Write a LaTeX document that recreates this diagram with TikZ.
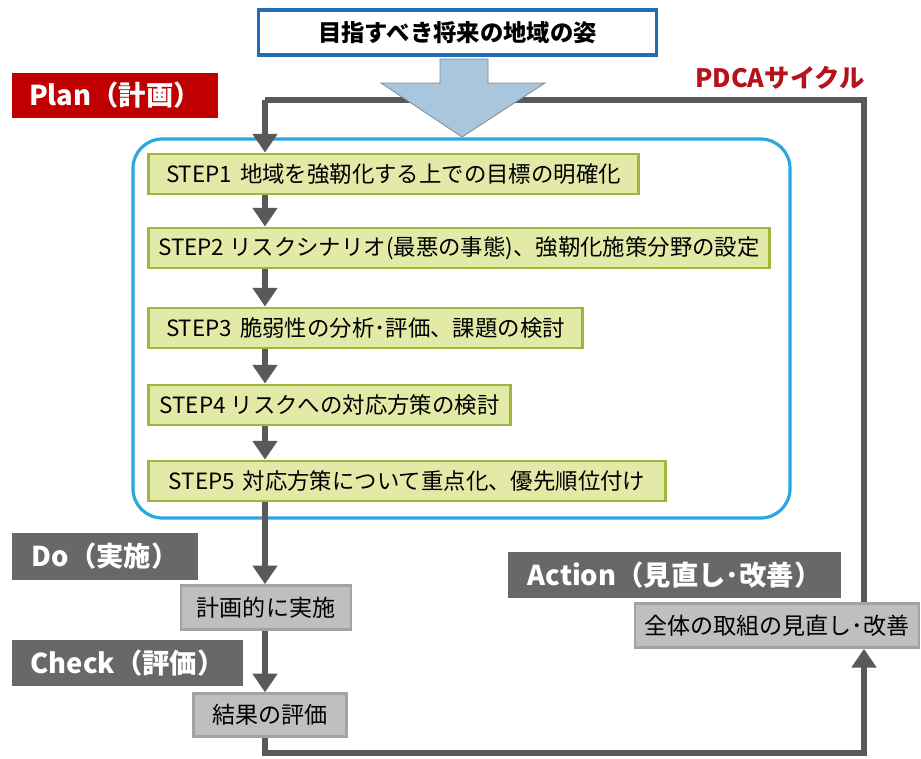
\documentclass[tikz,border=0pt]{standalone}
\usepackage{fontspec}
\setmainfont{Noto Sans CJK JP}
\usetikzlibrary{arrows.meta}
\definecolor{flowgray}{HTML}{595959}
\definecolor{labgray}{HTML}{686868}
\definecolor{boxgray}{HTML}{BFBFBF}
\definecolor{boxgrayb}{HTML}{A3A3A3}
\definecolor{stepfill}{HTML}{E3EAA8}
\definecolor{stepline}{HTML}{9DB83C}
\definecolor{planred}{HTML}{C00000}
\definecolor{pdcared}{HTML}{B5121B}
\definecolor{goalblue}{HTML}{1F6DB5}
\definecolor{roundblue}{HTML}{2AA8DF}
\definecolor{bigarrow}{HTML}{AAC6DD}
\newcommand{\stsp}{\hspace{0.35em}}
\tikzset{
  stepbox/.style={draw=stepline, fill=stepfill, line width=2.2pt, anchor=west,
    minimum height=30pt, inner xsep=5pt, font=\fontsize{16.8pt}{20pt}\selectfont},
  phaselab/.style={fill=labgray, text=white, minimum height=33pt, inner sep=0pt,
    font=\fontsize{20.5pt}{22pt}\selectfont\bfseries},
  graybox/.style={draw=boxgrayb, fill=boxgray, line width=2pt, inner sep=0pt,
    minimum height=32pt, font=\fontsize{17.3pt}{20pt}\selectfont},
  flow/.style={draw=flowgray, line width=4.5pt, -{Triangle[width=18pt,length=14pt]}},
  flowline/.style={draw=flowgray, line width=4.5pt}
}
\begin{document}
\begin{tikzpicture}[x=0.75pt,y=-0.75pt]
\useasboundingbox (0,0) rectangle (921,758);
\coordinate (col) at (265,0);
\coordinate (tl) at (265,100);
\coordinate (tr) at (864,100);
\coordinate (br) at (864,753);

\node[phaselab, fill=none, text=pdcared, font=\fontsize{19pt}{21pt}\selectfont\bfseries] (pdca) at (780,78) {PDCAサイクル};

% rounded blue frame
\draw[roundblue, line width=2.4pt, rounded corners=22pt] (133,139) rectangle (790,518);

% steps
\node[stepbox, minimum width=367.5pt] (s1) at (147,174) {STEP1\stsp 地域を強靭化する上での目標の明確化};
\node[stepbox, minimum width=465.75pt] (s2) at (147,248) {STEP2 リスクシナリオ(最悪の事態)、強靭化施策分野の設定};
\node[stepbox, minimum width=325.5pt] (s3) at (147,328) {STEP3\stsp 脆弱性の分析･評価、課題の検討};
\node[stepbox, minimum width=271.5pt] (s4) at (147,405) {STEP4 リスクへの対応方策の検討};
\node[stepbox, minimum width=387.75pt] (s5) at (147,481) {STEP5\stsp 対応方策について重点化、優先順位付け};

% labels
\node[phaselab, fill=planred, minimum width=154.5pt, minimum height=33.75pt] (plan) at (115,95.5) {Plan（計画）};
\node[phaselab, minimum width=139.5pt, minimum height=35pt] (do) at (105,556.5) {Do（実施）};
\node[phaselab, minimum width=173pt, minimum height=34.5pt] (check) at (127.5,663) {Check（評価）};
\node[phaselab, minimum width=250pt, minimum height=34.5pt] (act) at (674.5,575) {Action（見直し･改善）};

% gray boxes
\node[graybox, minimum width=127.5pt, minimum height=33pt] (do2) at (266,607.5) {計画的に実施};
\node[graybox, minimum width=115pt, minimum height=32pt] (ch2) at (270,715) {結果の評価};
\node[graybox, minimum width=213pt, minimum height=33pt] (act2) at (777,625.5) {全体の取組の見直し･改善};

% top loop
\draw[flowline] (act2.north -| tr) -- (tr) -- (tl);
\draw[flow] (tl) -- (s1.north -| col);

% big arrow
\draw[fill=bigarrow, draw=bigarrow!70!black, line width=0.6pt, line join=miter]
  (440,59) -- (488,59) -- (488,83) -- (545,83) -- (462,137) -- (381,83) -- (440,83) -- cycle;

% goal box
\node[draw=goalblue, fill=white, line width=2.3pt, minimum width=299pt, minimum height=33.75pt,
  font=\fontsize{17.5pt}{20pt}\selectfont\bfseries] (goal) at (457.5,32.5) {目指すべき将来の地域の姿};

% step arrows
\draw[flow] (s1.south -| col) -- (s2.north -| col);
\draw[flow] (s2.south -| col) -- (s3.north -| col);
\draw[flow] (s3.south -| col) -- (s4.north -| col);
\draw[flow] (s4.south -| col) -- (s5.north -| col);
\draw[flow] (s5.south -| col) -- (do2.north -| col);
\draw[flow] (do2.south -| col) -- (ch2.north -| col);
\draw[flow, line join=miter] (ch2.south -| col) |- (br) -- (act2.south -| br);
\end{tikzpicture}
\end{document}
